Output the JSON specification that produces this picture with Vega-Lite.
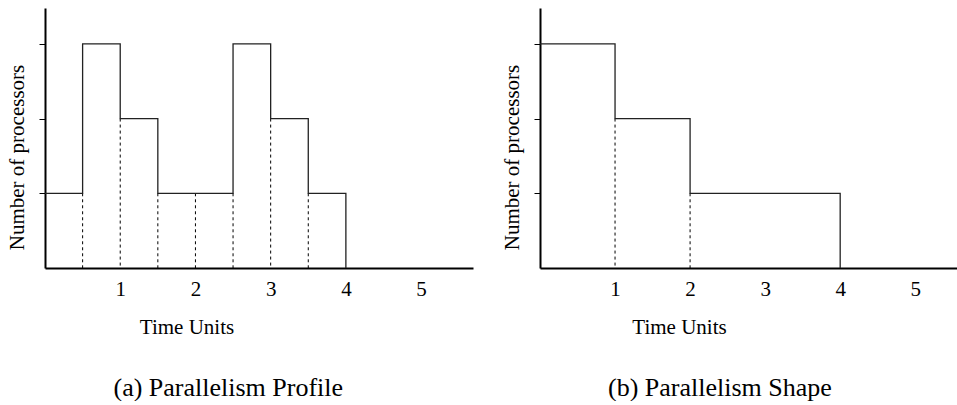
{
  "$schema": "https://vega.github.io/schema/vega-lite/v6.json",
  "padding": {"left": 6, "top": 8, "right": 0, "bottom": 0},
  "bounds": "flush",
  "spacing": 67,
  "datasets": {
    "profile": [
      {"t": 0, "p": 1, "k": 1},
      {"t": 0.5, "p": 3, "k": 2},
      {"t": 1, "p": 2, "k": 3},
      {"t": 1.5, "p": 1, "k": 4},
      {"t": 2.5, "p": 3, "k": 5},
      {"t": 3, "p": 2, "k": 6},
      {"t": 3.5, "p": 1, "k": 7},
      {"t": 4, "p": 1, "k": 8},
      {"t": 4, "p": 0, "k": 9}
    ],
    "profileDots": [
      {"t": 0.5, "h": 1},
      {"t": 1, "h": 2},
      {"t": 1.5, "h": 1},
      {"t": 2, "h": 1},
      {"t": 2.5, "h": 1},
      {"t": 3, "h": 2},
      {"t": 3.5, "h": 1}
    ],
    "shape": [
      {"t": 0, "p": 3, "k": 1},
      {"t": 1, "p": 2, "k": 2},
      {"t": 2, "p": 1, "k": 3},
      {"t": 4, "p": 1, "k": 4},
      {"t": 4, "p": 0, "k": 5}
    ],
    "shapeDots": [
      {"t": 1, "h": 2},
      {"t": 2, "h": 1}
    ]
  },
  "config": {
    "view": {"stroke": null},
    "font": "Liberation Serif",
    "axis": {
      "grid": false,
      "domainColor": "black",
      "domainWidth": 2,
      "labelFont": "Liberation Serif",
      "titleFont": "Liberation Serif",
      "labelFontSize": 21,
      "titleFontSize": 21,
      "labelColor": "black",
      "titleColor": "black",
      "titleFontWeight": "normal",
      "tickColor": "black"
    },
    "title": {"font": "Liberation Serif", "fontSize": 26, "fontWeight": "normal", "color": "black"}
  },
  "hconcat": [
    {
      "width": 428,
      "height": 260,
      "title": {"text": "(a) Parallelism Profile", "orient": "bottom", "anchor": "start", "frame": "group", "dx": 68.5, "offset": 38},
      "layer": [
        {
          "data": {"name": "profileDots"},
          "mark": {"type": "rule", "strokeDash": [3, 3], "strokeWidth": 1, "color": "black"},
          "encoding": {
            "x": {"field": "t", "type": "quantitative"},
            "y": {"field": "h", "type": "quantitative"},
            "y2": {"datum": 0}
          }
        },
        {
          "data": {"name": "profile"},
          "mark": {"type": "line", "interpolate": "step-after", "color": "#222", "strokeWidth": 1.3},
          "encoding": {
            "x": {"field": "t", "type": "quantitative", "scale": {"domain": [0, 5.69], "nice": false},
              "axis": {"values": [1, 2, 3, 4, 5], "format": "d", "ticks": false, "tickSize": 0, "labelPadding": 27, "labelBaseline": "alphabetic", "labelFlush": false,
                "title": "Time Units", "titleX": 141.5, "titleY": 65, "titleAlign": "center", "titleBaseline": "alphabetic"}},
            "y": {"field": "p", "type": "quantitative", "scale": {"domain": [0, 3.48], "nice": false},
              "axis": {"values": [1, 2, 3], "labels": false, "tickSize": 6, "tickWidth": 1,
                "title": "Number of processors", "titleAngle": 270, "titleX": -21.5, "titleY": 149, "titleAlign": "center", "titleBaseline": "alphabetic"}},
            "order": {"field": "k", "type": "quantitative"}
          }
        }
      ]
    },
    {
      "width": 418,
      "height": 260,
      "title": {"text": "(b) Parallelism Shape", "orient": "bottom", "anchor": "start", "frame": "group", "dx": 68, "offset": 38},
      "layer": [
        {
          "data": {"name": "shapeDots"},
          "mark": {"type": "rule", "strokeDash": [3, 3], "strokeWidth": 1, "color": "black"},
          "encoding": {
            "x": {"field": "t", "type": "quantitative"},
            "y": {"field": "h", "type": "quantitative"},
            "y2": {"datum": 0}
          }
        },
        {
          "data": {"name": "shape"},
          "mark": {"type": "line", "interpolate": "step-after", "color": "#222", "strokeWidth": 1.3},
          "encoding": {
            "x": {"field": "t", "type": "quantitative", "scale": {"domain": [0, 5.57], "nice": false},
              "axis": {"values": [1, 2, 3, 4, 5], "format": "d", "ticks": false, "tickSize": 0, "labelPadding": 27, "labelBaseline": "alphabetic", "labelFlush": false,
                "title": "Time Units", "titleX": 139, "titleY": 65, "titleAlign": "center", "titleBaseline": "alphabetic"}},
            "y": {"field": "p", "type": "quantitative", "scale": {"domain": [0, 3.48], "nice": false},
              "axis": {"values": [1, 2, 3], "labels": false, "tickSize": 6, "tickWidth": 1,
                "title": "Number of processors", "titleAngle": 270, "titleX": -21.5, "titleY": 149, "titleAlign": "center", "titleBaseline": "alphabetic"}},
            "order": {"field": "k", "type": "quantitative"}
          }
        }
      ]
    }
  ]
}
